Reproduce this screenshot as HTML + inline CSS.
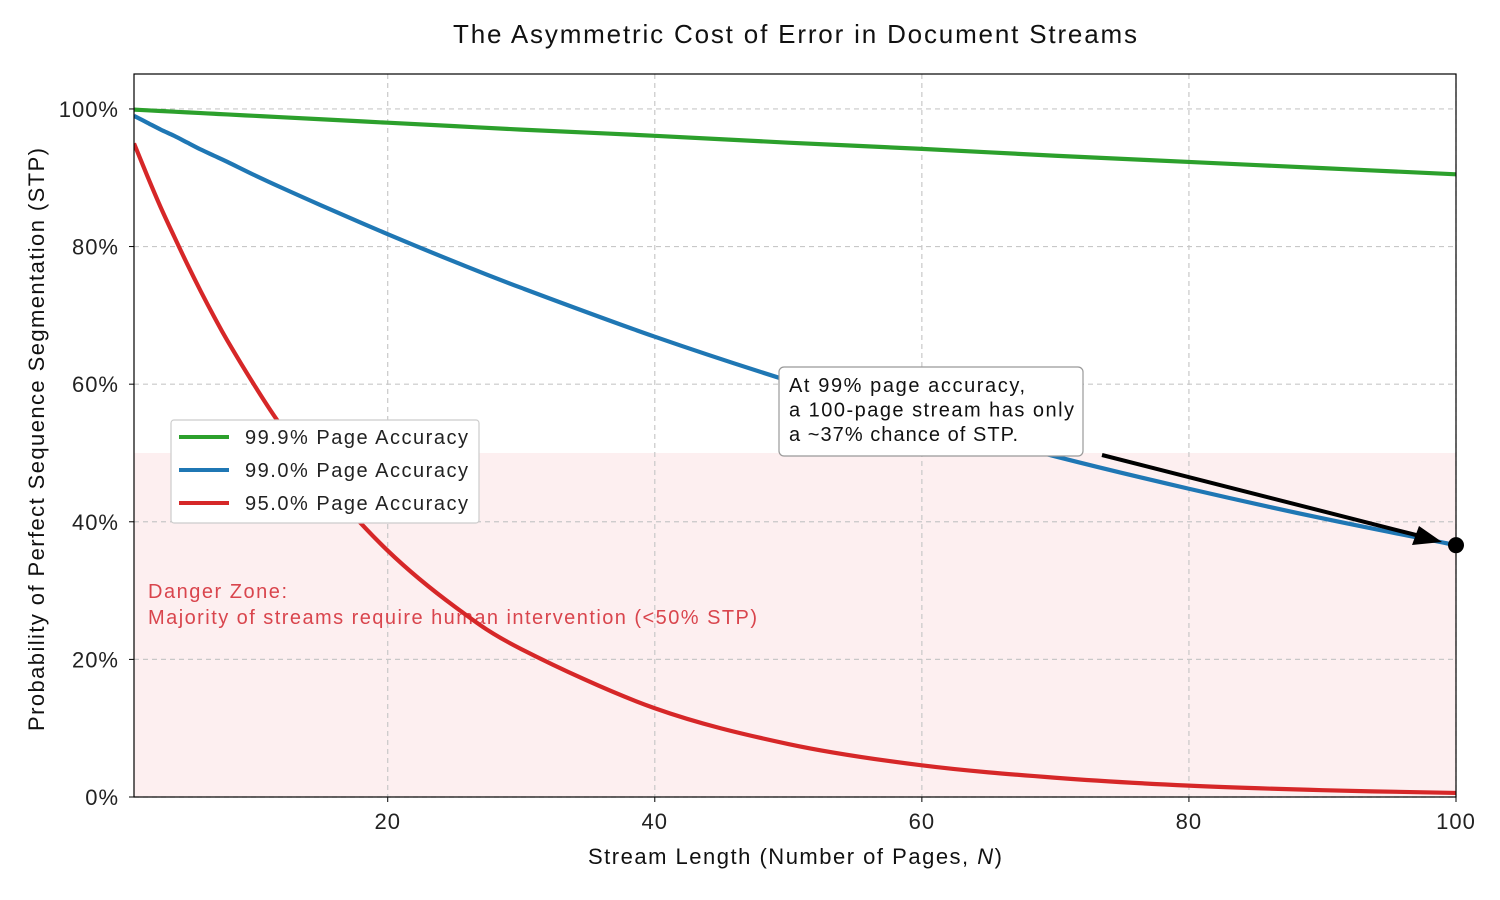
<!DOCTYPE html>
<html><head><meta charset="utf-8"><style>
html,body{margin:0;padding:0;background:#fff;}
svg{display:block;font-family:"Liberation Sans",sans-serif;}
</style></head><body>
<svg id="chart" width="1500" height="900" viewBox="0 0 1500 900"></svg>
<script>
const nValues = [1,2,3,4,5,6,7,8,10,12,15,20,25,30,40,50,60,70,80,90,100];
const acc999 = [0.999,0.998,0.997,0.996,0.995,0.994,0.993,0.992,0.990,0.988,0.985,0.980,0.975,0.970,0.961,0.951,0.942,0.932,0.923,0.914,0.905];
const acc990 = [0.990,0.980,0.970,0.961,0.951,0.941,0.932,0.923,0.904,0.886,0.860,0.818,0.778,0.740,0.669,0.605,0.547,0.495,0.448,0.405,0.366];
const acc950 = [0.950,0.9025,0.857,0.815,0.774,0.735,0.698,0.663,0.599,0.540,0.463,0.358,0.277,0.215,0.129,0.077,0.046,0.028,0.0165,0.0099,0.0059];
const seriesLabels = ["99.9% Page Accuracy","99.0% Page Accuracy","95.0% Page Accuracy"];
const xTicks = [20,40,60,80,100];
const yTicks = [0,0.2,0.4,0.6,0.8,1.0];
const dangerLevel = 0.5;
const highlightN = 100, highlightV = 0.366;

const NS="http://www.w3.org/2000/svg";
const svg=document.getElementById('chart');
const L=134,R=1456,T=74,B=797;
const xMin=1,xMax=100,yMin=0,yMax=1.0508;
const X=v=>L+(v-xMin)/(xMax-xMin)*(R-L);
const Y=v=>B-(v-yMin)/(yMax-yMin)*(B-T);
function el(tag,attrs,parent){const e=document.createElementNS(NS,tag);for(const k in attrs)e.setAttribute(k,attrs[k]);(parent||svg).appendChild(e);return e;}

let dz=el('rect',{x:L,y:Y(dangerLevel),width:R-L,height:B-Y(dangerLevel),fill:'#fdeff0'});



xTicks.forEach(t=>{
  let g=el('line',{x1:X(t),x2:X(t),y1:T,y2:B,stroke:'#c8c8c8','stroke-width':1.2,'stroke-dasharray':'5,4'});
  
  
  let tk=el('line',{x1:X(t),x2:X(t),y1:B,y2:B+5,stroke:'#000','stroke-width':1});
  
  
  let tx=el('text',{x:X(t),y:B+32,'text-anchor':'middle','font-size':22,fill:'#222','letter-spacing':1});
  tx.textContent=t;
  
  
});
yTicks.forEach(t=>{
  let g=el('line',{x1:L,x2:R,y1:Y(t),y2:Y(t),stroke:'#c8c8c8','stroke-width':1.2,'stroke-dasharray':'5,4'});
  
  
  let tk=el('line',{x1:L-5,x2:L,y1:Y(t),y2:Y(t),stroke:'#000','stroke-width':1});
  
  
  let tx=el('text',{x:L-15,y:Y(t)+8,'text-anchor':'end','font-size':22,fill:'#222','letter-spacing':1});
  tx.textContent=Math.round(t*100)+'%';
  
  
});

let dt=el('text',{'font-size':20,fill:'#d9454d'});


let s1=el('tspan',{x:148,y:598,textLength:139,lengthAdjust:'spacing'},dt);s1.textContent='Danger Zone:';
let s2=el('tspan',{x:148,y:624,textLength:609,lengthAdjust:'spacing'},dt);s2.textContent='Majority of streams require human intervention (<50% STP)';

function pathFor(vals){
  const p=nValues.map((n,i)=>[X(n),Y(vals[i])]);
  let d='M'+p[0][0]+','+p[0][1];
  for(let i=0;i<p.length-1;i++){
    const p0=p[Math.max(0,i-1)],p1=p[i],p2=p[i+1],p3=p[Math.min(p.length-1,i+2)];
    const c1=[p1[0]+(p2[0]-p0[0])/6,p1[1]+(p2[1]-p0[1])/6];
    const c2=[p2[0]-(p3[0]-p1[0])/6,p2[1]-(p3[1]-p1[1])/6];
    d+=` C${c1[0]},${c1[1]} ${c2[0]},${c2[1]} ${p2[0]},${p2[1]}`;
  }
  return d;
}
const colors=['#2ca02c','#1f77b4','#d62728'];
const clip=el('clipPath',{id:'pc'});el('rect',{x:L,y:T,width:R-L,height:B-T},clip);
[[acc999,'line-99-9'],[acc990,'line-99-0'],[acc950,'line-95-0']].forEach((s,i)=>{
  let p=el('path',{d:pathFor(s[0]),fill:'none',stroke:colors[i],'stroke-width':4.2,'clip-path':'url(#pc)'});
  
  
});

let fr=el('rect',{x:L,y:T,width:R-L,height:B-T,fill:'none',stroke:'#000','stroke-width':1.2});



let ar=el('line',{x1:1102,y1:455,x2:1420,y2:536,stroke:'#000','stroke-width':4});


let ah=el('polygon',{points:'1442,542 1412,545 1419,526',fill:'#000'});


let dot=el('circle',{cx:X(highlightN),cy:Y(highlightV),r:8,fill:'#000'});



let ab=el('rect',{x:779,y:367,width:304,height:89,rx:5,fill:'#fff',stroke:'#999','stroke-width':1.2});


let at=el('text',{'font-size':20,fill:'#111'});


[['At 99% page accuracy,',236],['a 100-page stream has only',285],['a ~37% chance of STP.',229]].forEach((t,i)=>{let s=el('tspan',{x:789,y:392+i*24.5,textLength:t[1],lengthAdjust:'spacing'},at);s.textContent=t[0];});

let lg=el('rect',{x:171,y:420,width:308,height:103,rx:3,fill:'#fff',stroke:'#ccc','stroke-width':1.2});


seriesLabels.forEach((t,i)=>{
  const y=437+i*33;
  let ln=el('line',{x1:179,x2:229,y1:y,y2:y,stroke:colors[i],'stroke-width':4});
  
  
  let tx=el('text',{x:245,y:y+7,'font-size':20,fill:'#222',textLength:223,lengthAdjust:'spacing'});
  tx.textContent=t;
  
  
});

let ti=el('text',{x:453,y:43,'font-size':26,fill:'#111',textLength:684,lengthAdjust:'spacing'});
ti.textContent='The Asymmetric Cost of Error in Document Streams';


let xl=el('text',{x:588,y:864,'font-size':22,fill:'#111',textLength:414,lengthAdjust:'spacing'});
xl.innerHTML='Stream Length (Number of Pages, <tspan font-style="italic">N</tspan>)';


let yl=el('text',{x:-731,y:0,'font-size':22,fill:'#111',transform:'translate(44,0) rotate(-90)',textLength:583,lengthAdjust:'spacing'});
yl.textContent='Probability of Perfect Sequence Segmentation (STP)';


</script>
</body></html>
